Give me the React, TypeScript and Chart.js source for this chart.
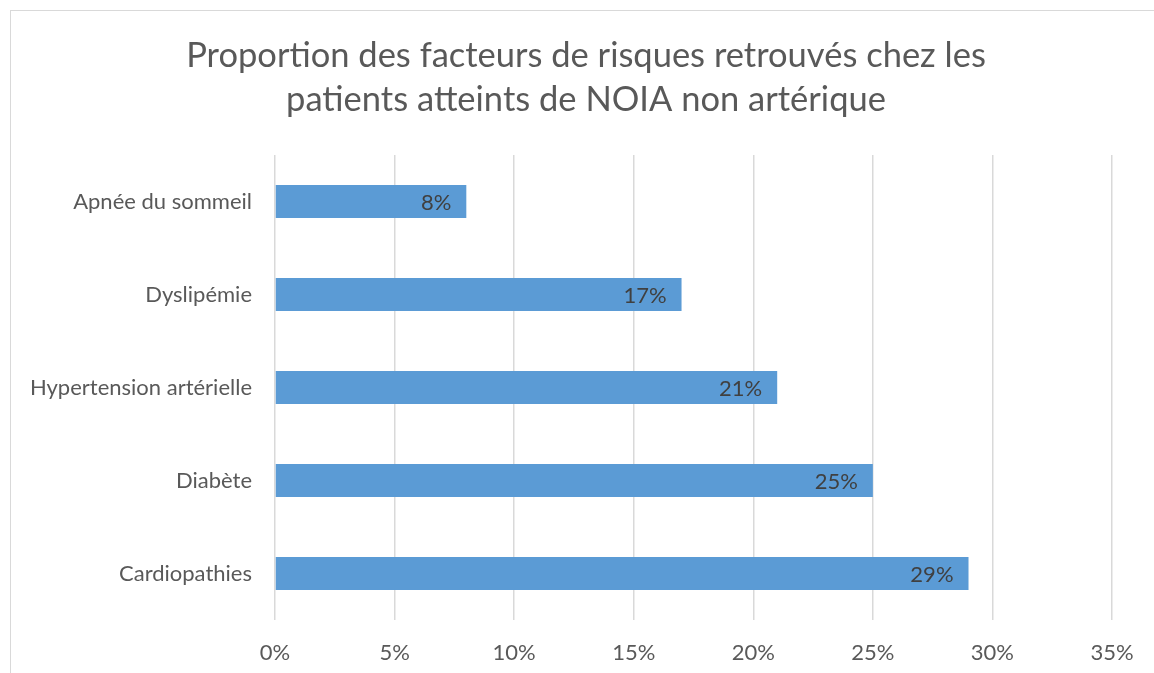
import React, { useEffect, useRef } from "react";
import { Chart, registerables } from "chart.js";

Chart.register(...registerables);

const titleLines = [
  "Proportion des facteurs de risques retrouvés chez les",
  "patients atteints de NOIA non artérique",
];
const categories = [
  "Apnée du sommeil",
  "Dyslipémie",
  "Hypertension artérielle",
  "Diabète",
  "Cardiopathies",
];
const values = [8, 17, 21, 25, 29];
const tickMax = 35;
const tickStep = 5;

const FONT = "Lato, 'Noto Sans', sans-serif";

const dataLabelPlugin = {
  id: "dataLabelsInside",
  afterDatasetsDraw(chart: any) {
    const ctx = chart.ctx;
    const meta = chart.getDatasetMeta(0);
    ctx.save();
    ctx.font = `22px ${FONT}`;
    ctx.fillStyle = "#404040";
    ctx.textAlign = "right";
    ctx.textBaseline = "middle";
    meta.data.forEach((bar: any, i: number) => {
      ctx.fillText(values[i] + "%", bar.x - 15, bar.y + 1);
    });
    ctx.restore();
  },
};

const centeredTitlePlugin = {
  id: "centeredTitle",
  afterDraw(chart: any) {
    const ctx = chart.ctx;
    ctx.save();
    ctx.font = `34.5px ${FONT}`;
    ctx.fillStyle = "#595959";
    ctx.textAlign = "center";
    ctx.textBaseline = "middle";
    const cx = chart.width / 2 + 1;
    titleLines.forEach((line, i) => {
      ctx.fillText(line, cx, 44.4 + i * 44.85);
    });
    ctx.restore();
  },
};

export default function App() {
  const ref = useRef<HTMLCanvasElement | null>(null);
  useEffect(() => {
    if (!ref.current) return;
    const chart = new Chart(ref.current, {
      type: "bar",
      data: {
        labels: categories,
        datasets: [
          {
            data: values,
            backgroundColor: "#5B9BD5",
            borderWidth: 0,
            barPercentage: 0.355,
            categoryPercentage: 1,
          },
        ],
      },
      options: {
        indexAxis: "y",
        animation: false,
        responsive: false,
        maintainAspectRatio: false,
        layout: { padding: { left: 0, right: 47, top: 144, bottom: 0 } },
        plugins: {
          legend: { display: false },
          tooltip: { enabled: false },
          title: { display: false },
        },
        scales: {
          x: {
            min: 0,
            max: tickMax,
            ticks: {
              stepSize: tickStep,
              callback: (v: any) => v + "%",
              color: "#595959",
              font: { family: FONT, size: 22 },
              padding: 20,
            },
            grid: { color: "#d9d9d9", lineWidth: 1.5, drawTicks: false },
            border: { display: false },
            afterFit: (s: any) => {
              s.height = 59;
            },
          },
          y: {
            ticks: {
              color: "#595959",
              font: { family: FONT, size: 22 },
              padding: 23,
            },
            grid: { display: false, drawTicks: false },
            border: { display: false },
            afterFit: (s: any) => {
              s.width = 264;
            },
          },
        },
      },
      plugins: [dataLabelPlugin, centeredTitlePlugin],
    });
    return () => chart.destroy();
  }, []);
  return (
    <div
      style={{
        position: "absolute",
        left: 10,
        top: 10,
        width: 1148,
        height: 668,
        border: "1px solid #d9d9d9",
        background: "#fff",
      }}
    >
      <canvas ref={ref} width={1148} height={668} style={{ display: "block" }} />
    </div>
  );
}
